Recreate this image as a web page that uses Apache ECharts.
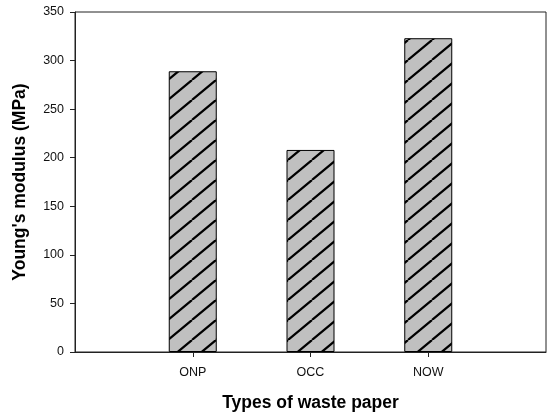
<!DOCTYPE html>
<html>
<head>
<meta charset="utf-8">
<script src="https://cdn.jsdelivr.net/npm/echarts@6/dist/echarts.min.js"></script>
<style>
    html, body { margin: 0; padding: 0; background: #fff; }
    #main { width: 550px; height: 417px; }
</style>
</head>
<body>
<div id="main"></div>
<script>
// 数据
var categories = ['', 'ONP', 'OCC', 'NOW', ''];
var modulusValues = ['-', 289, 208, 323, '-'];
var yTicks = [0, 50, 100, 150, 200, 250, 300, 350];

/**
 * 斜线填充图案
 */
function hatchPattern() {
    var w = 24, h = 20;
    var c = document.createElement('canvas');
    c.width = w;
    c.height = h;
    var ctx = c.getContext('2d');
    ctx.fillStyle = '#c0c0c0';
    ctx.fillRect(0, 0, w, h);
    ctx.strokeStyle = '#000';
    ctx.lineWidth = 2.2;
    ctx.beginPath();
    for (var k = -1; k <= 1; k++) {
        ctx.moveTo(k * w, h);
        ctx.lineTo(k * w + w, 0);
    }
    ctx.stroke();
    return c;
}

var myChart = echarts.init(document.getElementById('main'));
var option = {
    animation: false,
    textStyle: { fontFamily: 'Liberation Sans, Arial, sans-serif' },
    grid: {
        left: 75, top: 12, right: 4, bottom: 65,
        show: true, borderColor: '#222', borderWidth: 1
    },
    xAxis: {
        type: 'category',
        data: categories,
        boundaryGap: false,
        name: 'Types of waste paper',
        nameLocation: 'middle',
        nameGap: 42,
        nameTextStyle: { fontSize: 17.5, fontWeight: 'bold', color: '#000' },
        axisLine: { lineStyle: { color: '#222', width: 1 } },
        axisTick: {
            length: 5,
            lineStyle: { color: '#222' },
            interval: function (i, v) { return v !== ''; }
        },
        axisLabel: { color: '#111', fontSize: 12.5, margin: 14, interval: 0 },
        splitLine: { show: false }
    },
    yAxis: {
        type: 'value',
        min: 0,
        max: yTicks[yTicks.length - 1],
        interval: 50,
        name: "Young's modulus (MPa)",
        nameLocation: 'middle',
        nameGap: 46,
        nameTextStyle: { fontSize: 17.5, fontWeight: 'bold', color: '#000' },
        axisLine: { show: true, lineStyle: { color: '#222', width: 1 } },
        axisTick: { show: true, length: 5, lineStyle: { color: '#222' } },
        axisLabel: { color: '#111', fontSize: 12.5, margin: 11 },
        splitLine: { show: false }
    },
    series: [
        {
            type: 'bar',
            data: modulusValues,
            barWidth: 48,
            itemStyle: {
                color: { image: hatchPattern(), repeat: 'repeat' },
                borderColor: '#000',
                borderWidth: 1
            }
        }
    ]
};
myChart.setOption(option, true);
</script>
</body>
</html>
